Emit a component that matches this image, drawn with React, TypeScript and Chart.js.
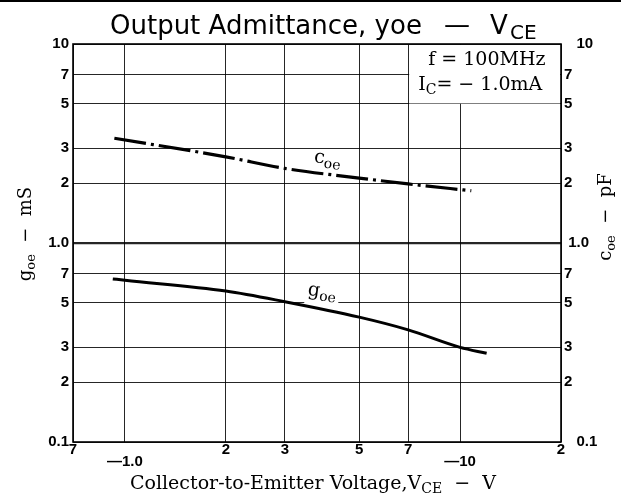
import React, { useEffect, useRef } from 'react';
import { Chart, registerables } from 'chart.js';

Chart.register(...registerables);

// ---------- data ----------
const vceTicks = [0.7, 1, 2, 3, 5, 7, 10, 20];
const vceTickLabels: (string | string[])[] = ['7', ['', '—1.0'], '2', '3', '5', '7', ['', '—10'], '2'];
const yTicks = [0.1, 0.2, 0.3, 0.5, 0.7, 1, 2, 3, 5, 7, 10];
const yLeftLabels = ['0.1', '2', '3', '5', '7', '1.0', '2', '3', '5', '7', '10'];
const yRightLabels = ['   0.1', '2', '3', '5', '7', ' 1.0', '2', '3', '5', '7', '   10'];

const coeVce = [0.93, 2, 3, 5, 7, 10.8];
const coeValues = [3.36, 2.71, 2.37, 2.12, 1.98, 1.83];
const goeVce = [0.92, 1, 2, 3, 5, 7, 10, 12];
const goeValues = [0.66, 0.65, 0.574, 0.507, 0.424, 0.366, 0.299, 0.279];

const coeLabelAt = [3.65, 2.55];
const goeLabelAt = [3.5, 0.55];
const boxFrom = [7, 5]; // annotation box: from VCE=7 to right edge, from top down to 5

const titleMain = 'Output Admittance, yoe';
const titleDash = '—';
const titleV = 'V';
const titleSub = 'CE';
const condLine1 = 'f = 100MHz';
const condLine2 = ['I', 'C', '= − 1.0mA'];
const xTitle = ['Collector-to-Emitter Voltage,V', 'CE', '  −  V'];
const leftTitle = ['g', 'oe', '  −  mS'];
const rightTitle = ['c', 'oe', '  −  pF'];

const SERIF = '"DejaVu Serif", serif';
const SANS = '"DejaVu Sans", sans-serif';
const TICK = '"Liberation Sans", Arial, sans-serif';

type Part = { t: string; f: string; dy?: number };

function partsWidth(ctx: CanvasRenderingContext2D, parts: Part[]) {
  let w = 0;
  for (const p of parts) {
    ctx.font = p.f;
    w += ctx.measureText(p.t).width;
  }
  return w;
}

function drawParts(ctx: CanvasRenderingContext2D, parts: Part[], x: number, y: number) {
  let cx = x;
  for (const p of parts) {
    ctx.font = p.f;
    ctx.fillText(p.t, cx, y + (p.dy || 0));
    cx += ctx.measureText(p.t).width;
  }
}

const decorPlugin = {
  id: 'decor',
  beforeDatasetsDraw(chart: any) {
    const { ctx, chartArea: a, scales } = chart;
    const bx = scales.x.getPixelForValue(boxFrom[0]);
    const by = scales.y.getPixelForValue(boxFrom[1]);
    ctx.save();
    ctx.fillStyle = '#fff';
    ctx.fillRect(bx + 1, a.top + 1, a.right - bx - 2, by - a.top - 1.5);
    // white patch behind g_oe label
    const gx = scales.x.getPixelForValue(goeLabelAt[0]);
    const gy = scales.y.getPixelForValue(goeLabelAt[1]);
    ctx.fillRect(gx - 3, gy - 12, 34, 22);
    ctx.restore();
  },
  afterDatasetsDraw(chart: any) {
    const { ctx, chartArea: a, scales } = chart;
    ctx.save();
    ctx.fillStyle = '#000';
    ctx.strokeStyle = '#000';
    ctx.textAlign = 'left';
    ctx.textBaseline = 'alphabetic';

    // frame
    ctx.lineWidth = 1.6;
    ctx.strokeRect(a.left, a.top, a.right - a.left, a.bottom - a.top);

    // curve labels
    const cx = scales.x.getPixelForValue(coeLabelAt[0]);
    const cy = scales.y.getPixelForValue(coeLabelAt[1]);
    ctx.save();
    ctx.translate(cx, cy);
    ctx.rotate((8 * Math.PI) / 180);
    drawParts(ctx, [{ t: 'c', f: `19px ${SERIF}` }, { t: 'oe', f: `14px ${SERIF}`, dy: 4 }], 0, 0);
    ctx.restore();

    const gx = scales.x.getPixelForValue(goeLabelAt[0]);
    const gy = scales.y.getPixelForValue(goeLabelAt[1]);
    ctx.save();
    ctx.translate(gx, gy);
    ctx.rotate((8 * Math.PI) / 180);
    drawParts(ctx, [{ t: 'g', f: `19px ${SERIF}` }, { t: 'oe', f: `14px ${SERIF}`, dy: 4 }], 0, 0);
    ctx.restore();

    // condition box text
    const bx = scales.x.getPixelForValue(boxFrom[0]);
    drawParts(ctx, [{ t: condLine1, f: `19px ${SERIF}` }], bx + 20, a.top + 21);
    drawParts(
      ctx,
      [
        { t: condLine2[0], f: `19px ${SERIF}` },
        { t: condLine2[1], f: `14px ${SERIF}`, dy: 4 },
        { t: condLine2[2], f: `19px ${SERIF}` },
      ],
      bx + 10,
      a.top + 46
    );
    ctx.restore();
  },
  afterDraw(chart: any) {
    const { ctx, width } = chart;
    ctx.save();
    ctx.fillStyle = '#000';
    ctx.textBaseline = 'alphabetic';
    ctx.textAlign = 'left';

    // top scan edge
    ctx.fillRect(0, 0, width, 2);

    // title
    ctx.font = `26px ${SANS}`;
    ctx.fillText(titleMain, 110, 34);
    ctx.textAlign = 'center';
    ctx.fillText(titleDash, 457, 33);
    ctx.textAlign = 'left';
    ctx.fillText(titleV, 490, 34);
    ctx.font = `20px ${SANS}`;
    ctx.fillText(titleSub, 510, 39);

    // x title
    const xParts: Part[] = [
      { t: xTitle[0], f: `19px ${SERIF}` },
      { t: xTitle[1], f: `14px ${SERIF}`, dy: 4 },
      { t: xTitle[2], f: `19px ${SERIF}` },
    ];
    const xw = partsWidth(ctx, xParts);
    drawParts(ctx, xParts, 313 - xw / 2, 489);

    // left title (rotated)
    const lParts: Part[] = [
      { t: leftTitle[0], f: `18px ${SERIF}` },
      { t: leftTitle[1], f: `13px ${SERIF}`, dy: 4 },
      { t: leftTitle[2], f: `18px ${SERIF}` },
    ];
    ctx.save();
    ctx.translate(24, 234);
    ctx.rotate(-Math.PI / 2);
    drawParts(ctx, lParts, -partsWidth(ctx, lParts) / 2, 7);
    ctx.restore();

    const rParts: Part[] = [
      { t: rightTitle[0], f: `18px ${SERIF}` },
      { t: rightTitle[1], f: `13px ${SERIF}`, dy: 4 },
      { t: rightTitle[2], f: `18px ${SERIF}` },
    ];
    ctx.save();
    ctx.translate(604, 217);
    ctx.rotate(-Math.PI / 2);
    drawParts(ctx, rParts, -partsWidth(ctx, rParts) / 2, 7);
    ctx.restore();

    ctx.restore();
  },
};

export default function App() {
  const canvasRef = useRef<HTMLCanvasElement | null>(null);

  useEffect(() => {
    const canvas = canvasRef.current;
    if (!canvas) return;
    const tickFont = { family: TICK, size: 15, weight: 'bold' as const };
    const chart = new Chart(canvas, {
      type: 'line',
      data: {
        datasets: [
          {
            label: 'coe',
            data: coeVce.map((x, i) => ({ x, y: coeValues[i] })),
            borderColor: '#000',
            borderWidth: 3.2,
            borderDash: [32, 5, 3, 5],
            borderCapStyle: 'butt',
            pointRadius: 0,
            cubicInterpolationMode: 'monotone',
            fill: false,
          },
          {
            label: 'goe',
            data: goeVce.map((x, i) => ({ x, y: goeValues[i] })),
            borderColor: '#000',
            borderWidth: 3,
            pointRadius: 0,
            cubicInterpolationMode: 'monotone',
            fill: false,
          },
        ],
      },
      options: {
        responsive: false,
        animation: false,
        events: [],
        layout: { padding: { top: 44, left: 0, right: 0, bottom: 0 } },
        plugins: { legend: { display: false }, tooltip: { enabled: false }, title: { display: false } },
        scales: {
          x: {
            type: 'logarithmic',
            position: 'bottom',
            min: 0.7,
            max: 20,
            bounds: 'data',
            afterBuildTicks: (s: any) => {
              s.ticks = vceTicks.map((v) => ({ value: v }));
            },
            afterFit: (s: any) => {
              s.height = 53;
            },
            ticks: {
              autoSkip: false,
              maxRotation: 0,
              minRotation: 0,
              padding: 1,
              color: '#000',
              font: { ...tickFont, lineHeight: 0.85 },
              callback: (_v: any, i: number) => vceTickLabels[i],
            },
            grid: { color: 'rgba(0,0,0,0.85)', lineWidth: 1, drawTicks: false },
            border: { display: false },
          },
          y: {
            type: 'logarithmic',
            position: 'left',
            min: 0.1,
            max: 10,
            bounds: 'data',
            afterBuildTicks: (s: any) => {
              s.ticks = yTicks.map((v) => ({ value: v }));
            },
            afterFit: (s: any) => {
              s.width = 73;
            },
            ticks: {
              autoSkip: false,
              padding: 4,
              color: '#000',
              font: tickFont,
              callback: (_v: any, i: number) => yLeftLabels[i],
            },
            grid: {
              color: 'rgba(0,0,0,0.85)',
              lineWidth: (c: any) => (c.tick && c.tick.value === 1 ? 2.2 : 1),
              drawTicks: false,
            },
            border: { display: false },
          },
          y2: {
            type: 'logarithmic',
            position: 'right',
            min: 0.1,
            max: 10,
            bounds: 'data',
            afterBuildTicks: (s: any) => {
              s.ticks = yTicks.map((v) => ({ value: v }));
            },
            afterFit: (s: any) => {
              s.width = 60;
            },
            ticks: {
              autoSkip: false,
              padding: 3,
              color: '#000',
              font: tickFont,
              callback: (_v: any, i: number) => yRightLabels[i],
            },
            grid: { display: false, drawTicks: false },
            border: { display: false },
          },
        },
      },
      plugins: [decorPlugin],
    } as any);
    return () => chart.destroy();
  }, []);

  return (
    <div style={{ position: 'fixed', left: 0, top: 0, width: 621, height: 495, background: '#fff' }}>
      <canvas ref={canvasRef} width={621} height={495} style={{ display: 'block' }} />
    </div>
  );
}
